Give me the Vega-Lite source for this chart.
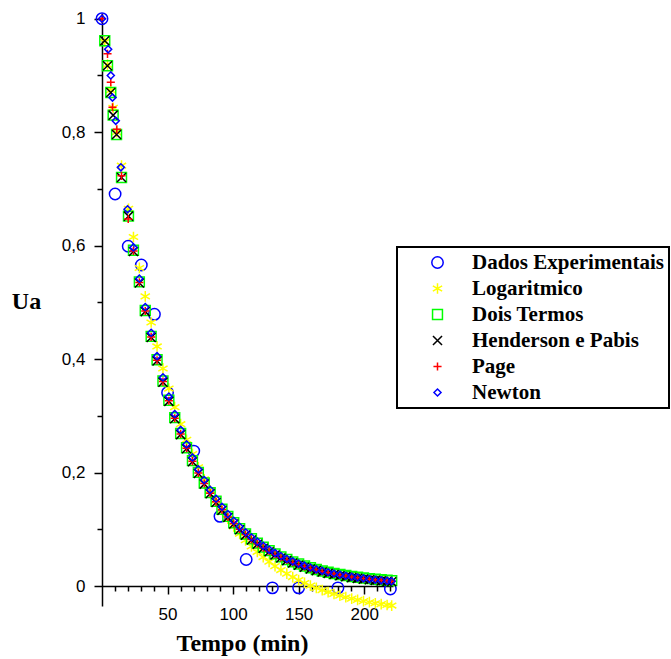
{
"$schema": "https://vega.github.io/schema/vega-lite/v6.json",
"width": 291, "height": 593,
"autosize": {"type": "none"},
"padding": {"left": 102, "top": 13, "right": 278, "bottom": 53},
"background": "white",
"config": {
  "view": {"stroke": null},
  "axis": {"grid": false, "labelFont": "Liberation Sans", "labelFontSize": 17, "labelColor": "#000", "domainColor": "#000", "tickColor": "#000", "domainWidth": 1.5, "tickWidth": 1.5, "labelOverlap": false, "labelFlush": false},
  "legend": {"strokeColor": "#000", "strokeWidth": 2, "fillColor": "#fff", "padding": 5, "symbolOffset": 25, "labelOffset": 24, "labelFont": "Liberation Serif", "labelFontWeight": "bold", "labelFontSize": 21, "labelColor": "#000", "rowPadding": 4, "symbolStrokeWidth": 1.5, "labelLimit": 400}
},
"data": {"values": [
{"s":"Dados Experimentais","t":0,"u":1.0},{"s":"Dados Experimentais","t":10,"u":0.691},{"s":"Dados Experimentais","t":20,"u":0.599},{"s":"Dados Experimentais","t":30,"u":0.566},{"s":"Dados Experimentais","t":40,"u":0.479},{"s":"Dados Experimentais","t":50,"u":0.341},{"s":"Dados Experimentais","t":70,"u":0.238},{"s":"Dados Experimentais","t":90,"u":0.123},{"s":"Dados Experimentais","t":110,"u":0.047},{"s":"Dados Experimentais","t":130,"u":-0.003},{"s":"Dados Experimentais","t":150,"u":-0.003},{"s":"Dados Experimentais","t":180,"u":-0.003},{"s":"Dados Experimentais","t":220,"u":-0.005},
{"s":"Logaritmico","t":2.1,"u":0.959},{"s":"Logaritmico","t":4.2,"u":0.919},{"s":"Logaritmico","t":6.7,"u":0.874},{"s":"Logaritmico","t":8.5,"u":0.843},{"s":"Logaritmico","t":11.1,"u":0.8},{"s":"Logaritmico","t":14.9,"u":0.741},{"s":"Logaritmico","t":20.2,"u":0.665},
{"s":"Logaritmico","t":24,"u":0.6152},{"s":"Logaritmico","t":28.5,"u":0.5607},{"s":"Logaritmico","t":33,"u":0.5106},{"s":"Logaritmico","t":37.5,"u":0.4646},{"s":"Logaritmico","t":42,"u":0.4224},{"s":"Logaritmico","t":46.5,"u":0.3836},{"s":"Logaritmico","t":51,"u":0.3481},{"s":"Logaritmico","t":55.5,"u":0.3154},{"s":"Logaritmico","t":60,"u":0.2854},{"s":"Logaritmico","t":64.5,"u":0.2579},{"s":"Logaritmico","t":69,"u":0.2327},{"s":"Logaritmico","t":73.5,"u":0.2095},{"s":"Logaritmico","t":78,"u":0.1882},{"s":"Logaritmico","t":82.5,"u":0.1687},{"s":"Logaritmico","t":87,"u":0.1507},{"s":"Logaritmico","t":91.5,"u":0.1343},{"s":"Logaritmico","t":96,"u":0.1191},{"s":"Logaritmico","t":100.5,"u":0.1053},{"s":"Logaritmico","t":105,"u":0.0925},{"s":"Logaritmico","t":109.5,"u":0.0808},{"s":"Logaritmico","t":114,"u":0.0701},{"s":"Logaritmico","t":118.5,"u":0.0603},{"s":"Logaritmico","t":123,"u":0.0512},{"s":"Logaritmico","t":127.5,"u":0.0429},{"s":"Logaritmico","t":132,"u":0.0353},{"s":"Logaritmico","t":136.5,"u":0.0283},{"s":"Logaritmico","t":141,"u":0.0219},{"s":"Logaritmico","t":145.5,"u":0.016},{"s":"Logaritmico","t":150,"u":0.0106},{"s":"Logaritmico","t":154.5,"u":0.0056},{"s":"Logaritmico","t":159,"u":0.001},{"s":"Logaritmico","t":163.5,"u":-0.0032},{"s":"Logaritmico","t":168,"u":-0.007},{"s":"Logaritmico","t":172.5,"u":-0.0105},{"s":"Logaritmico","t":177,"u":-0.0138},{"s":"Logaritmico","t":181.5,"u":-0.0167},{"s":"Logaritmico","t":186,"u":-0.0195},{"s":"Logaritmico","t":190.5,"u":-0.022},{"s":"Logaritmico","t":195,"u":-0.0243},{"s":"Logaritmico","t":199.5,"u":-0.0264},{"s":"Logaritmico","t":204,"u":-0.0283},{"s":"Logaritmico","t":208.5,"u":-0.0301},{"s":"Logaritmico","t":213,"u":-0.0317},{"s":"Logaritmico","t":217.5,"u":-0.0332},{"s":"Logaritmico","t":221,"u":-0.0343},
{"s":"Dois Termos","t":2.1,"u":0.961},{"s":"Dois Termos","t":4.2,"u":0.917},{"s":"Dois Termos","t":6.7,"u":0.87},{"s":"Dois Termos","t":8.5,"u":0.83},{"s":"Dois Termos","t":11.1,"u":0.796},{"s":"Dois Termos","t":14.9,"u":0.72},{"s":"Dois Termos","t":20.2,"u":0.652},
{"s":"Dois Termos","t":24,"u":0.5918},{"s":"Dois Termos","t":28.5,"u":0.5362},{"s":"Dois Termos","t":33,"u":0.4858},{"s":"Dois Termos","t":37.5,"u":0.4402},{"s":"Dois Termos","t":42,"u":0.3989},{"s":"Dois Termos","t":46.5,"u":0.3615},{"s":"Dois Termos","t":51,"u":0.3276},{"s":"Dois Termos","t":55.5,"u":0.2969},{"s":"Dois Termos","t":60,"u":0.2691},{"s":"Dois Termos","t":64.5,"u":0.244},{"s":"Dois Termos","t":69,"u":0.2212},{"s":"Dois Termos","t":73.5,"u":0.2005},{"s":"Dois Termos","t":78,"u":0.1818},{"s":"Dois Termos","t":82.5,"u":0.1648},{"s":"Dois Termos","t":87,"u":0.1495},{"s":"Dois Termos","t":91.5,"u":0.1356},{"s":"Dois Termos","t":96,"u":0.123},{"s":"Dois Termos","t":100.5,"u":0.1116},{"s":"Dois Termos","t":105,"u":0.1013},{"s":"Dois Termos","t":109.5,"u":0.0919},{"s":"Dois Termos","t":114,"u":0.0834},{"s":"Dois Termos","t":118.5,"u":0.0758},{"s":"Dois Termos","t":123,"u":0.0688},{"s":"Dois Termos","t":127.5,"u":0.0625},{"s":"Dois Termos","t":132,"u":0.0568},{"s":"Dois Termos","t":136.5,"u":0.0516},{"s":"Dois Termos","t":141,"u":0.047},{"s":"Dois Termos","t":145.5,"u":0.0427},{"s":"Dois Termos","t":150,"u":0.0389},{"s":"Dois Termos","t":154.5,"u":0.0354},{"s":"Dois Termos","t":159,"u":0.0323},{"s":"Dois Termos","t":163.5,"u":0.0294},{"s":"Dois Termos","t":168,"u":0.0268},{"s":"Dois Termos","t":172.5,"u":0.0245},{"s":"Dois Termos","t":177,"u":0.0224},{"s":"Dois Termos","t":181.5,"u":0.0204},{"s":"Dois Termos","t":186,"u":0.0187},{"s":"Dois Termos","t":190.5,"u":0.0171},{"s":"Dois Termos","t":195,"u":0.0157},{"s":"Dois Termos","t":199.5,"u":0.0144},{"s":"Dois Termos","t":204,"u":0.0132},{"s":"Dois Termos","t":208.5,"u":0.0122},{"s":"Dois Termos","t":213,"u":0.0112},{"s":"Dois Termos","t":217.5,"u":0.0104},{"s":"Dois Termos","t":221,"u":0.0097},
{"s":"Henderson e Pabis","t":2.1,"u":0.961},{"s":"Henderson e Pabis","t":4.2,"u":0.917},{"s":"Henderson e Pabis","t":6.7,"u":0.87},{"s":"Henderson e Pabis","t":8.5,"u":0.83},{"s":"Henderson e Pabis","t":11.1,"u":0.796},{"s":"Henderson e Pabis","t":14.9,"u":0.72},{"s":"Henderson e Pabis","t":20.2,"u":0.652},
{"s":"Henderson e Pabis","t":24,"u":0.5898},{"s":"Henderson e Pabis","t":28.5,"u":0.5342},{"s":"Henderson e Pabis","t":33,"u":0.4838},{"s":"Henderson e Pabis","t":37.5,"u":0.4382},{"s":"Henderson e Pabis","t":42,"u":0.3969},{"s":"Henderson e Pabis","t":46.5,"u":0.3595},{"s":"Henderson e Pabis","t":51,"u":0.3256},{"s":"Henderson e Pabis","t":55.5,"u":0.2949},{"s":"Henderson e Pabis","t":60,"u":0.2671},{"s":"Henderson e Pabis","t":64.5,"u":0.242},{"s":"Henderson e Pabis","t":69,"u":0.2192},{"s":"Henderson e Pabis","t":73.5,"u":0.1985},{"s":"Henderson e Pabis","t":78,"u":0.1798},{"s":"Henderson e Pabis","t":82.5,"u":0.1628},{"s":"Henderson e Pabis","t":87,"u":0.1475},{"s":"Henderson e Pabis","t":91.5,"u":0.1336},{"s":"Henderson e Pabis","t":96,"u":0.121},{"s":"Henderson e Pabis","t":100.5,"u":0.1096},{"s":"Henderson e Pabis","t":105,"u":0.0993},{"s":"Henderson e Pabis","t":109.5,"u":0.0899},{"s":"Henderson e Pabis","t":114,"u":0.0814},{"s":"Henderson e Pabis","t":118.5,"u":0.0738},{"s":"Henderson e Pabis","t":123,"u":0.0668},{"s":"Henderson e Pabis","t":127.5,"u":0.0605},{"s":"Henderson e Pabis","t":132,"u":0.0548},{"s":"Henderson e Pabis","t":136.5,"u":0.0496},{"s":"Henderson e Pabis","t":141,"u":0.045},{"s":"Henderson e Pabis","t":145.5,"u":0.0407},{"s":"Henderson e Pabis","t":150,"u":0.0369},{"s":"Henderson e Pabis","t":154.5,"u":0.0334},{"s":"Henderson e Pabis","t":159,"u":0.0303},{"s":"Henderson e Pabis","t":163.5,"u":0.0274},{"s":"Henderson e Pabis","t":168,"u":0.0248},{"s":"Henderson e Pabis","t":172.5,"u":0.0225},{"s":"Henderson e Pabis","t":177,"u":0.0204},{"s":"Henderson e Pabis","t":181.5,"u":0.0184},{"s":"Henderson e Pabis","t":186,"u":0.0167},{"s":"Henderson e Pabis","t":190.5,"u":0.0151},{"s":"Henderson e Pabis","t":195,"u":0.0137},{"s":"Henderson e Pabis","t":199.5,"u":0.0124},{"s":"Henderson e Pabis","t":204,"u":0.0112},{"s":"Henderson e Pabis","t":208.5,"u":0.0102},{"s":"Henderson e Pabis","t":213,"u":0.0092},{"s":"Henderson e Pabis","t":217.5,"u":0.0084},{"s":"Henderson e Pabis","t":221,"u":0.0077},
{"s":"Page","t":0,"u":1.0},{"s":"Page","t":4.2,"u":0.938},{"s":"Page","t":6.7,"u":0.888},{"s":"Page","t":8.0,"u":0.844},{"s":"Page","t":11.3,"u":0.805},{"s":"Page","t":14.9,"u":0.723},{"s":"Page","t":20.0,"u":0.647},
{"s":"Page","t":24,"u":0.5908},{"s":"Page","t":28.5,"u":0.5352},{"s":"Page","t":33,"u":0.4848},{"s":"Page","t":37.5,"u":0.4392},{"s":"Page","t":42,"u":0.3979},{"s":"Page","t":46.5,"u":0.3605},{"s":"Page","t":51,"u":0.3266},{"s":"Page","t":55.5,"u":0.2959},{"s":"Page","t":60,"u":0.2681},{"s":"Page","t":64.5,"u":0.243},{"s":"Page","t":69,"u":0.2202},{"s":"Page","t":73.5,"u":0.1995},{"s":"Page","t":78,"u":0.1808},{"s":"Page","t":82.5,"u":0.1638},{"s":"Page","t":87,"u":0.1485},{"s":"Page","t":91.5,"u":0.1346},{"s":"Page","t":96,"u":0.122},{"s":"Page","t":100.5,"u":0.1106},{"s":"Page","t":105,"u":0.1003},{"s":"Page","t":109.5,"u":0.0909},{"s":"Page","t":114,"u":0.0824},{"s":"Page","t":118.5,"u":0.0748},{"s":"Page","t":123,"u":0.0678},{"s":"Page","t":127.5,"u":0.0615},{"s":"Page","t":132,"u":0.0558},{"s":"Page","t":136.5,"u":0.0506},{"s":"Page","t":141,"u":0.046},{"s":"Page","t":145.5,"u":0.0417},{"s":"Page","t":150,"u":0.0379},{"s":"Page","t":154.5,"u":0.0344},{"s":"Page","t":159,"u":0.0313},{"s":"Page","t":163.5,"u":0.0284},{"s":"Page","t":168,"u":0.0258},{"s":"Page","t":172.5,"u":0.0235},{"s":"Page","t":177,"u":0.0214},{"s":"Page","t":181.5,"u":0.0194},{"s":"Page","t":186,"u":0.0177},{"s":"Page","t":190.5,"u":0.0161},{"s":"Page","t":195,"u":0.0147},{"s":"Page","t":199.5,"u":0.0134},{"s":"Page","t":204,"u":0.0122},{"s":"Page","t":208.5,"u":0.0112},{"s":"Page","t":213,"u":0.0102},{"s":"Page","t":217.5,"u":0.0094},{"s":"Page","t":221,"u":0.0087},
{"s":"Newton","t":0,"u":1.0},{"s":"Newton","t":4.7,"u":0.946},{"s":"Newton","t":6.7,"u":0.9},{"s":"Newton","t":8.0,"u":0.861},{"s":"Newton","t":10.5,"u":0.82},{"s":"Newton","t":14.4,"u":0.738},{"s":"Newton","t":19.5,"u":0.664},
{"s":"Newton","t":24,"u":0.5969},{"s":"Newton","t":28.5,"u":0.5419},{"s":"Newton","t":33,"u":0.4919},{"s":"Newton","t":37.5,"u":0.4465},{"s":"Newton","t":42,"u":0.4053},{"s":"Newton","t":46.5,"u":0.368},{"s":"Newton","t":51,"u":0.334},{"s":"Newton","t":55.5,"u":0.3032},{"s":"Newton","t":60,"u":0.2753},{"s":"Newton","t":64.5,"u":0.2499},{"s":"Newton","t":69,"u":0.2268},{"s":"Newton","t":73.5,"u":0.2059},{"s":"Newton","t":78,"u":0.1869},{"s":"Newton","t":82.5,"u":0.1697},{"s":"Newton","t":87,"u":0.154},{"s":"Newton","t":91.5,"u":0.1398},{"s":"Newton","t":96,"u":0.1269},{"s":"Newton","t":100.5,"u":0.1152},{"s":"Newton","t":105,"u":0.1046},{"s":"Newton","t":109.5,"u":0.095},{"s":"Newton","t":114,"u":0.0862},{"s":"Newton","t":118.5,"u":0.0783},{"s":"Newton","t":123,"u":0.071},{"s":"Newton","t":127.5,"u":0.0645},{"s":"Newton","t":132,"u":0.0585},{"s":"Newton","t":136.5,"u":0.0531},{"s":"Newton","t":141,"u":0.0482},{"s":"Newton","t":145.5,"u":0.0438},{"s":"Newton","t":150,"u":0.0398},{"s":"Newton","t":154.5,"u":0.0361},{"s":"Newton","t":159,"u":0.0328},{"s":"Newton","t":163.5,"u":0.0297},{"s":"Newton","t":168,"u":0.027},{"s":"Newton","t":172.5,"u":0.0245},{"s":"Newton","t":177,"u":0.0223},{"s":"Newton","t":181.5,"u":0.0202},{"s":"Newton","t":186,"u":0.0183},{"s":"Newton","t":190.5,"u":0.0166},{"s":"Newton","t":195,"u":0.0151},{"s":"Newton","t":199.5,"u":0.0137},{"s":"Newton","t":204,"u":0.0125},{"s":"Newton","t":208.5,"u":0.0113},{"s":"Newton","t":213,"u":0.0103},{"s":"Newton","t":217.5,"u":0.0093},{"s":"Newton","t":221,"u":0.0086}
]},
"mark": {"type": "point", "filled": false, "strokeWidth": 1.5, "opacity": 1},
"encoding": {
  "x": {"field": "t", "type": "quantitative", "scale": {"domain": [0, 222], "nice": false, "zero": false},
    "axis": {"values": [10,20,30,40,50,60,70,80,90,100,110,120,130,140,150,160,170,180,190,200,210,220],
      "labelExpr": "datum.value % 50 === 0 ? datum.label : ''",
      "tickSize": {"condition": {"test": "datum.value % 50 === 0", "value": 8}, "value": 5},
      "offset": -20, "labelPadding": 12,
      "title": "Tempo (min)", "titleFont": "Liberation Serif", "titleFontWeight": "bold", "titleFontSize": 24, "titleColor": "#000",
      "titleX": 140, "titleY": 64, "titleBaseline": "alphabetic", "titleAlign": "center"}},
  "y": {"field": "u", "type": "quantitative", "scale": {"domain": [-0.035, 1.01], "nice": false, "zero": false},
    "axis": {"values": [0,0.1,0.2,0.3,0.4,0.5,0.6,0.7,0.8,0.9,1],
      "labelExpr": "round(datum.value*10) % 2 === 0 ? replace(toString(round(datum.value*10)/10), '.', ',') : ''",
      "tickSize": {"condition": {"test": "round(datum.value*10) % 2 === 0", "value": 8}, "value": 5},
      "labelPadding": 9,
      "title": "Ua", "titleAngle": 0, "titleFont": "Liberation Serif", "titleFontWeight": "bold", "titleFontSize": 24, "titleColor": "#000",
      "titleX": -76, "titleY": 295, "titleBaseline": "alphabetic", "titleAlign": "center"}},
  "color": {"field": "s", "type": "nominal",
    "scale": {"domain": ["Dados Experimentais","Logaritmico","Dois Termos","Henderson e Pabis","Page","Newton"],
              "range": ["#0000ff","#ffff00","#00ff00","#000000","#ff0000","#0000ff"]},
    "legend": {"title": null, "orient": "none", "legendX": 295, "legendY": 234}},
  "shape": {"field": "s", "type": "nominal",
    "scale": {"domain": ["Dados Experimentais","Logaritmico","Dois Termos","Henderson e Pabis","Page","Newton"],
              "range": ["circle","M0,-1L0,1M-0.87,-0.5L0.87,0.5M-0.87,0.5L0.87,-0.5","square","M-1,-1L1,1M-1,1L1,-1","M-1,0L1,0M0,-1L0,1","diamond"]},
    "legend": {"title": null, "orient": "none", "legendX": 295, "legendY": 234}},
  "size": {"field": "s", "type": "nominal",
    "scale": {"domain": ["Dados Experimentais","Logaritmico","Dois Termos","Henderson e Pabis","Page","Newton"],
              "range": [130, 50, 50, 50, 60, 45]},
    "legend": {"title": null, "orient": "none", "legendX": 295, "legendY": 234}}
}
}
